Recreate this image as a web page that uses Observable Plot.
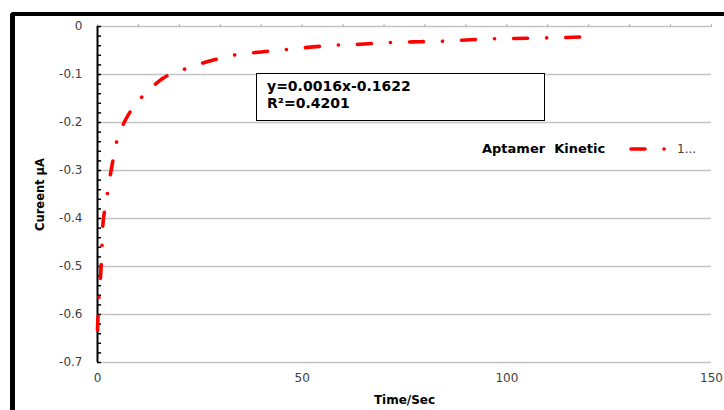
<!DOCTYPE html>
<html>
<head>
<meta charset="utf-8">
<script src="https://cdn.jsdelivr.net/npm/d3@7"></script>
<script src="https://cdn.jsdelivr.net/npm/@observablehq/plot@0.6"></script>
<style>
  html, body { margin: 0; padding: 0; background: #fff; }
  #wrap { position: relative; width: 724px; height: 410px; overflow: hidden; font-family: "DejaVu Sans", sans-serif; }
  #wrap svg { position: absolute; left: 0; top: 0; }
  #border { position: absolute; left: 10px; top: 12px; width: 900px; height: 600px; border-top: 4px solid #000; border-left: 5px solid #000; border-top-left-radius: 4px; pointer-events: none; }
  #eqbox { position: absolute; left: 256px; top: 73px; width: 287px; height: 46px; border: 1.5px solid #000; background: #fff; font-weight: bold; font-size: 14px; line-height: 17px; color: #000; }
  #eqbox div { position: absolute; left: 10px; white-space: pre; }
  #legend { position: absolute; left: 482px; top: 139px; height: 20px; white-space: pre; }
  #legend .name { position: absolute; left: 0; top: 0; font-weight: bold; font-size: 13px; line-height: 20px; color: #000; }
  #legend svg { position: absolute; left: 140px; top: 0; }
  #legend .val { position: absolute; left: 195px; top: 0; font-size: 12px; line-height: 20px; color: #404040; }
</style>
</head>
<body>
<div id="wrap"></div>
<script>
// Data
const time = [0, 0.12, 0.25, 0.6, 0.9, 1.1, 1.3, 2, 2.7, 3.5, 4.4, 6, 8.5, 12, 16, 21.5, 27, 33, 40, 46, 52, 58, 64, 70, 77, 83, 89, 95, 101, 108, 114, 120];
const current = [-0.633, -0.606, -0.579, -0.537, -0.498, -0.456, -0.415, -0.373, -0.331, -0.292, -0.25, -0.21, -0.171, -0.137, -0.108, -0.088, -0.073, -0.060, -0.053, -0.048, -0.043, -0.039, -0.037, -0.034, -0.032, -0.031, -0.0285, -0.026, -0.025, -0.024, -0.023, -0.021];

const xTicks = [0, 50, 100, 150];
const xMinorTicks = [0, 10, 20, 30, 40, 50, 60, 70, 80, 90, 100, 110, 120, 130, 140, 150];
const yTicks = [0, -0.1, -0.2, -0.3, -0.4, -0.5, -0.6, -0.7];
const yTickLabels = ["0", "-0.1", "-0.2", "-0.3", "-0.4", "-0.5", "-0.6", "-0.7"];
const yMinorTicks = d3.range(0, 36).map(i => -i * 0.02);

const xTitle = "Time/Sec";
const yTitle = "Cureent µA";
const seriesName = "Aptamer  Kinetic";
const seriesLegendValue = "1...";
const trendEquation = "y=0.0016x-0.1622";
const trendR2 = "R²=0.4201";

const data = time.map((t, i) => ({t, c: current[i]}));
const lineColor = "#ff0000";
const dash = "14,19,0.1,19";

const chart = Plot.plot({
  width: 724,
  height: 410,
  marginTop: 26,
  marginRight: 13,
  marginBottom: 48,
  marginLeft: 97,
  style: {fontFamily: "DejaVu Sans, sans-serif", background: "transparent", overflow: "visible"},
  x: {domain: [0, 150]},
  y: {domain: [-0.7, 0]},
  marks: [
    Plot.ruleY(yTicks, {stroke: "#c4c4c4", strokeWidth: 1.3}),
    Plot.axisX({anchor: "top", ticks: xMinorTicks, tickSize: 3, tickFormat: () => "", stroke: "#b0b0b0", label: null}),
    Plot.axisX({anchor: "bottom", ticks: xTicks, tickSize: 0, tickPadding: 11, fontSize: 12, fill: "#404040", label: null}),
    Plot.axisY({anchor: "left", ticks: yTicks, tickSize: 0, tickPadding: 15, fontSize: 12, fill: "#404040", label: null,
      tickFormat: d => yTickLabels[yTicks.findIndex(v => Math.abs(v - d) < 1e-9)]}),
    Plot.axisY({anchor: "left", ticks: yMinorTicks, tickSize: 4, dx: 4, tickFormat: () => "", stroke: "#000", strokeWidth: 1.5, label: null}),
    Plot.ruleX([0], {stroke: "#000", strokeWidth: 2}),
    Plot.text([xTitle], {frameAnchor: "bottom", dy: 38, textAnchor: "middle", fontWeight: "bold", fontSize: 12, fill: "#000", lineAnchor: "middle"}),
    Plot.text([yTitle], {frameAnchor: "left", dx: -57, rotate: -90, textAnchor: "middle", fontWeight: "bold", fontSize: 11.5, fill: "#000", lineAnchor: "middle"}),
    Plot.line(data, {x: "t", y: "c", stroke: lineColor, strokeWidth: 3.6, strokeDasharray: dash, strokeLinecap: "round", curve: "monotone-x"})
  ]
});

const wrap = document.getElementById("wrap");
wrap.appendChild(chart);

const border = document.createElement("div");
border.id = "border";
wrap.appendChild(border);

const eq = document.createElement("div");
eq.id = "eqbox";
const l1 = document.createElement("div"); l1.style.top = "4px"; l1.textContent = trendEquation;
const l2 = document.createElement("div"); l2.style.top = "21px"; l2.textContent = trendR2;
eq.appendChild(l1); eq.appendChild(l2);
wrap.appendChild(eq);

const legend = document.createElement("div");
legend.id = "legend";
const nm = document.createElement("span"); nm.className = "name"; nm.textContent = seriesName;
legend.appendChild(nm);
const svgNS = "http://www.w3.org/2000/svg";
const ls = document.createElementNS(svgNS, "svg");
ls.setAttribute("width", "50"); ls.setAttribute("height", "20");
const ln = document.createElementNS(svgNS, "line");
ln.setAttribute("x1", "9"); ln.setAttribute("x2", "45");
ln.setAttribute("y1", "10"); ln.setAttribute("y2", "10");
ln.setAttribute("stroke", lineColor); ln.setAttribute("stroke-width", "3.6");
ln.setAttribute("stroke-linecap", "round"); ln.setAttribute("stroke-dasharray", dash);
ls.appendChild(ln);
legend.appendChild(ls);
const vl = document.createElement("span"); vl.className = "val"; vl.textContent = seriesLegendValue;
legend.appendChild(vl);
wrap.appendChild(legend);
</script>
</body>
</html>
